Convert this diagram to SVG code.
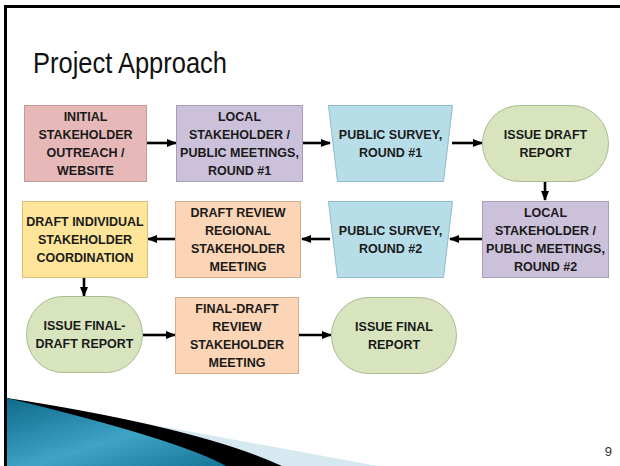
<svg xmlns="http://www.w3.org/2000/svg" width="620" height="466" viewBox="0 0 620 466">
  <defs>
    <marker id="ah" markerWidth="10" markerHeight="8" refX="9" refY="4" orient="auto" markerUnits="userSpaceOnUse">
      <path d="M0,0 L10,4 L0,8 Z" fill="#000"/>
    </marker>
    <linearGradient id="teal" x1="0" y1="0" x2="1" y2="1">
      <stop offset="0" stop-color="#0f6a8a"/>
      <stop offset="0.55" stop-color="#3fa4c6"/>
      <stop offset="1" stop-color="#157596"/>
    </linearGradient>
    <style>
      .t { font-family: "Liberation Sans", Arial, sans-serif; font-weight: bold; font-size: 12.5px; fill: #1a1a1a; text-anchor: middle; }
      .pink { fill: #e6b9b8; stroke: #c49a99; stroke-width: 1; }
      .lav { fill: #ccc1da; stroke: #a89db8; stroke-width: 1; }
      .blue { fill: #b7dde8; stroke: #8fbccb; stroke-width: 1; }
      .green { fill: #d7e4bd; stroke: #a9bb8e; stroke-width: 1; }
      .peach { fill: #fbd5b5; stroke: #d6ad8c; stroke-width: 1; }
      .yellow { fill: #fee599; stroke: #d8c079; stroke-width: 1; }
      .c { stroke: #000; stroke-width: 2.6; fill: none; marker-end: url(#ah); }
    </style>
  </defs>
  <rect width="620" height="466" fill="#fff"/>
  <!-- frame -->
  <line x1="4" y1="6.5" x2="620" y2="6.5" stroke="#000" stroke-width="3"/>
  <line x1="5.5" y1="5" x2="5.5" y2="466" stroke="#000" stroke-width="3"/>
  <!-- bottom decoration -->
  <path d="M7,398 L378,466 L7,466 Z" fill="#d6e9f1"/>
  <path d="M7,398 Q200,428 282,466 L7,466 Z" fill="#000"/>
  <path d="M7,398 Q180,440 226,466 L7,466 Z" fill="url(#teal)"/>
  <!-- title -->
  <text x="33" y="73" font-family="Liberation Sans, Arial, sans-serif" font-size="29" fill="#111" textLength="194" lengthAdjust="spacingAndGlyphs">Project Approach</text>
  <text x="612" y="456" font-family="Liberation Sans, Arial, sans-serif" font-size="13" fill="#333" text-anchor="end">9</text>

  <g id="connectors">
    <line class="c" x1="147" y1="143" x2="176" y2="143"/>
    <line class="c" x1="303" y1="143" x2="330" y2="143"/>
    <line class="c" x1="452" y1="143" x2="482" y2="143"/>
    <line class="c" x1="545" y1="181" x2="545" y2="200"/>
    <line class="c" x1="482" y1="239" x2="450" y2="239"/>
    <line class="c" x1="330" y1="239" x2="302" y2="239"/>
    <line class="c" x1="176" y1="239" x2="148" y2="239"/>
    <line class="c" x1="84" y1="277" x2="84" y2="296"/>
    <line class="c" x1="143" y1="335" x2="175" y2="335"/>
    <line class="c" x1="298" y1="335" x2="331" y2="335"/>
  </g>

  <g id="n1">
    <rect class="pink" x="24.5" y="105.5" width="122" height="76"/>
    <text class="t" x="85.5"><tspan x="85.5" y="120.5">INITIAL</tspan><tspan x="85.5" y="138.8">STAKEHOLDER</tspan><tspan x="85.5" y="157.1">OUTREACH /</tspan><tspan x="85.5" y="175.4">WEBSITE</tspan></text>
  </g>
  <g id="n2">
    <rect class="lav" x="176.5" y="105.5" width="126" height="76"/>
    <text class="t"><tspan x="239.5" y="120.5">LOCAL</tspan><tspan x="239.5" y="138.8">STAKEHOLDER /</tspan><tspan x="239.5" y="157.1">PUBLIC MEETINGS,</tspan><tspan x="239.5" y="175.4">ROUND #1</tspan></text>
  </g>
  <g id="n3">
    <path class="blue" d="M328.5,105.5 L452.5,105.5 L443.5,181.5 L337.5,181.5 Z"/>
    <text class="t"><tspan x="390.5" y="138.5">PUBLIC SURVEY,</tspan><tspan x="390.5" y="156.8">ROUND #1</tspan></text>
  </g>
  <g id="n4">
    <rect class="green" x="482.5" y="105.5" width="126" height="76" rx="37" ry="38"/>
    <text class="t"><tspan x="545.5" y="138.5">ISSUE DRAFT</tspan><tspan x="545.5" y="156.8">REPORT</tspan></text>
  </g>
  <g id="n5">
    <rect class="lav" x="482.5" y="201.5" width="126" height="76"/>
    <text class="t"><tspan x="545.5" y="216.5">LOCAL</tspan><tspan x="545.5" y="234.8">STAKEHOLDER /</tspan><tspan x="545.5" y="253.1">PUBLIC MEETINGS,</tspan><tspan x="545.5" y="271.4">ROUND #2</tspan></text>
  </g>
  <g id="n6">
    <path class="blue" d="M328.5,201.5 L452.5,201.5 L443.5,277.5 L337.5,277.5 Z"/>
    <text class="t"><tspan x="390.5" y="234.5">PUBLIC SURVEY,</tspan><tspan x="390.5" y="252.8">ROUND #2</tspan></text>
  </g>
  <g id="n7">
    <rect class="peach" x="175.5" y="201.5" width="125" height="76"/>
    <text class="t"><tspan x="238" y="216.5">DRAFT REVIEW</tspan><tspan x="238" y="234.8">REGIONAL</tspan><tspan x="238" y="253.1">STAKEHOLDER</tspan><tspan x="238" y="271.4">MEETING</tspan></text>
  </g>
  <g id="n8">
    <rect class="yellow" x="22.5" y="201.5" width="125" height="76"/>
    <text class="t"><tspan x="85" y="225.5">DRAFT INDIVIDUAL</tspan><tspan x="85" y="243.8">STAKEHOLDER</tspan><tspan x="85" y="262.1">COORDINATION</tspan></text>
  </g>
  <g id="n9">
    <rect class="green" x="26.5" y="296.5" width="116" height="76" rx="36" ry="38"/>
    <text class="t"><tspan x="84.5" y="329.5">ISSUE FINAL-</tspan><tspan x="84.5" y="347.8">DRAFT REPORT</tspan></text>
  </g>
  <g id="n10">
    <rect class="peach" x="175.5" y="297.5" width="123" height="76"/>
    <text class="t"><tspan x="237" y="312.5">FINAL-DRAFT</tspan><tspan x="237" y="330.8">REVIEW</tspan><tspan x="237" y="349.1">STAKEHOLDER</tspan><tspan x="237" y="367.4">MEETING</tspan></text>
  </g>
  <g id="n11">
    <rect class="green" x="331.5" y="297.5" width="125" height="76" rx="37" ry="38"/>
    <text class="t"><tspan x="394" y="330.5">ISSUE FINAL</tspan><tspan x="394" y="348.8">REPORT</tspan></text>
  </g>
</svg>
